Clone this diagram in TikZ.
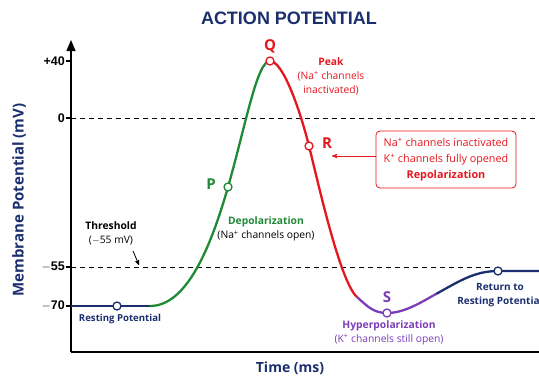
\documentclass[tikz,border=0pt]{standalone}
\usepackage{fontspec}
\setmainfont{Open Sans}
\newfontfamily\headfont{Liberation Sans}
\usetikzlibrary{arrows,positioning}
\definecolor{navy}{HTML}{1B2F6E}
\definecolor{depgreen}{HTML}{1F8A35}
\definecolor{repred}{HTML}{E5161D}
\definecolor{hyppurple}{HTML}{7A3DB8}

\begin{document}
\begin{tikzpicture}[x=1pt,y=-1pt,>=stealth',font=\fontsize{10.3}{14}\selectfont]
  \tikzstyle{curve}=[line width=2.3pt]
  \tikzstyle{dot}=[circle,draw,fill=white,line width=1.3pt,inner sep=0pt,minimum size=8pt]
  \tikzstyle{ptlabel}=[font=\fontsize{15}{15}\selectfont\bfseries]
  \tikzstyle{ticklbl}=[left,font=\headfont\fontsize{12.5}{13}\selectfont\bfseries,inner sep=1pt]
  \tikzstyle{guide}=[dash pattern=on 5pt off 4pt,line width=0.8pt]
  \tikzstyle{txt}=[inner sep=0pt,align=center]
  \tikzstyle{bold}=[txt,font=\fontsize{10}{14}\selectfont\bfseries]

  \useasboundingbox (0,0) rectangle (539,376);

  % title and axes
  \node [font=\headfont\fontsize{18}{18}\selectfont\bfseries,text=navy] (title) at (289,18) {ACTION POTENTIAL};
  \coordinate (orig) at (71,352);
  \coordinate (ytop) at (71,40);
  \coordinate (xend) at (539,352);
  \draw [line width=1.6pt] (orig) -- (xend);
  \draw [line width=1.6pt,-triangle 45] (orig) -- (ytop);
  \node [rotate=90,font=\fontsize{15}{15}\selectfont\bfseries,text=navy] (ylbl) at (19,200) {Membrane Potential (mV)};
  \node [font=\fontsize{14}{14}\selectfont\bfseries,text=navy] (xlbl) at (290,368) {Time (ms)};

  % levels
  \foreach \lvl/\yy in {+40/61,0/118,$-$55/267,$-$70/306} {
    \draw [line width=1.1pt] (66,\yy) -- (71,\yy);
    \node [ticklbl] at (66,\yy) {\lvl};
  }
  \draw [guide] (71,118) -- (539,118);
  \draw [guide] (71,267) -- (490,267);

  % points on the trace
  \coordinate (rest) at (117,306);
  \coordinate (P) at (228,187);
  \coordinate (Q) at (270,61);
  \coordinate (R) at (309,146);
  \coordinate (S) at (387,313);
  \coordinate (back) at (498,271);

  % the trace
  \draw [curve,navy] (71,306) -- (150,306);
  \draw [curve,depgreen] (150,306) .. controls (186,306) and (210,250) .. (P)
        .. controls (246,124) and (257,61) .. (Q);
  \draw [curve,repred] (Q) .. controls (283,61) and (300,110) .. (R)
        .. controls (318,182) and (340,282) .. (357,297);
  \draw [curve,hyppurple] (357,297) .. controls (368,307) and (374,313) .. (S)
        .. controls (404,313) and (420,303) .. (436,294);
  \draw [curve,navy] (436,294) .. controls (458,282) and (474,271) .. (back) -- (539,271);

  \node [dot,draw=navy] (d0) at (rest) {};
  \node [dot,draw=depgreen] (d1) at (P) {};
  \node [dot,draw=repred] (d2) at (Q) {};
  \node [dot,draw=repred] (d3) at (R) {};
  \node [dot,draw=hyppurple] (d4) at (S) {};
  \node [dot,draw=navy] (d5) at (back) {};

  \node [ptlabel,text=repred] (lQ) at (270,46) {Q};
  \node [ptlabel,text=depgreen] (lP) at (211,184) {P};
  \node [ptlabel,text=repred] (lR) at (327,143) {R};
  \node [ptlabel,text=hyppurple] (lS) at (387,297) {S};

  % notes
  \node [txt,text=repred] (peak) at (331,76) {\textbf{Peak}\\(Na\textsuperscript{+} channels\\inactivated)};
  \node [txt] (dep) at (266,229) {\textcolor{depgreen}{\textbf{Depolarization}}\\(Na\textsuperscript{+} channels open)};
  \node [txt] (thr) at (111,233) {\textbf{Threshold}\\($-$55 mV)};
  \coordinate (thrpt) at (139,265);
  \draw [->,line width=0.8pt] (133,251) -- (thrpt);
  \node [bold,text=navy,font=\fontsize{9.6}{14}\selectfont\bfseries] (restlbl) at (120,319) {Resting Potential};
  \node [txt,text=hyppurple] (hyp) at (389,332.5) {\textbf{Hyperpolarization}\\(K\textsuperscript{+} channels still open)};
  \node [bold,text=navy,anchor=north] (ret) at (500,283.5) {Return to\\Resting Potential};

  \node [draw=repred,text=repred,rounded corners=4pt,line width=0.8pt,align=center,
         minimum width=140pt,minimum height=57pt,inner sep=2pt,
         font=\fontsize{10.8}{16}\selectfont] (box) at (446,159.5)
        {Na\textsuperscript{+} channels inactivated\\K\textsuperscript{+} channels fully opened\\\textbf{Repolarization}};
  \coordinate (Rtip) at (332,156);
  \draw [->,repred,line width=0.9pt] (box.west |- Rtip) -- (Rtip);
\end{tikzpicture}
\end{document}
